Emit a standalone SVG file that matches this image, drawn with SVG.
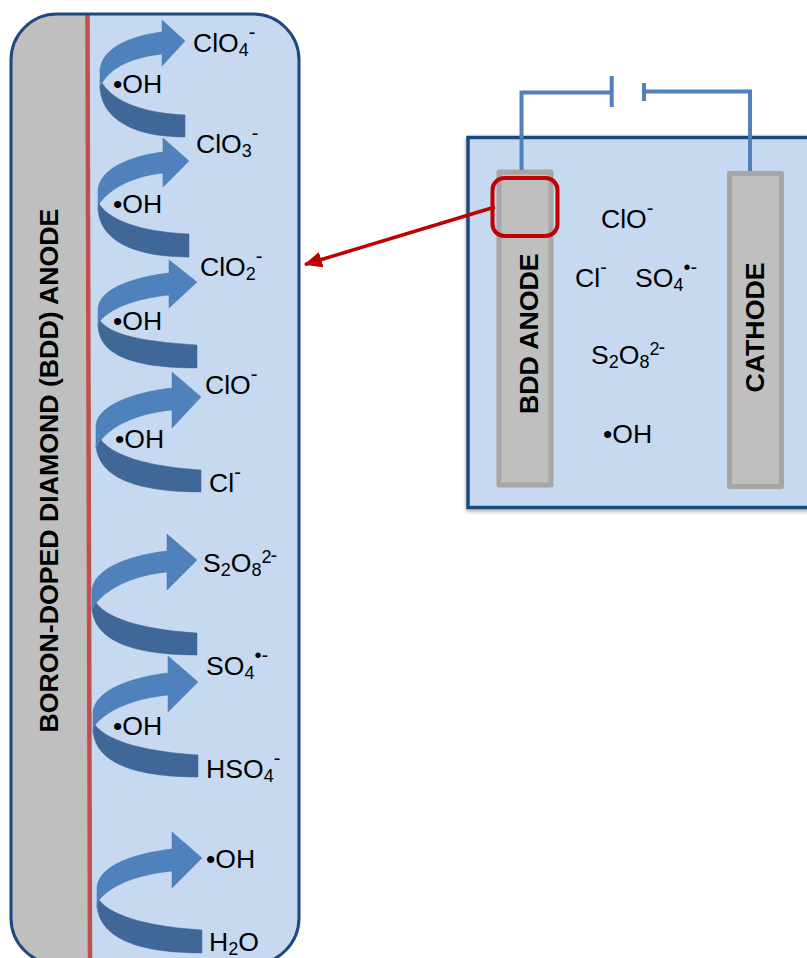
<svg xmlns="http://www.w3.org/2000/svg" width="807" height="958" viewBox="0 0 807 958">
<style>
text{font-family:"Liberation Sans",Arial,sans-serif;font-size:26.600px;fill:#000}
.b{font-weight:bold;font-size:26.700px}
.s{font-size:18px}
.u{font-size:20px}
.lt{fill:#4f81bd;stroke:#4a76ad;stroke-width:.5}
.dk{fill:#3f6797;stroke:#3f6797;stroke-width:.5}
.el{fill:#bfbfbf;stroke:#a6a6a6;stroke-width:5;stroke-linejoin:round}
.w{fill:none;stroke:#4f81bd;stroke-width:4}
</style>
<defs>
<clipPath id="pc"><rect x="11" y="14" width="288" height="950" rx="46"/></clipPath>
<filter id="sh" x="-5%" y="-5%" width="110%" height="110%"><feDropShadow dx="0" dy="2" stdDeviation="2" flood-color="#000" flood-opacity=".35"/></filter>
<marker id="ah" markerUnits="userSpaceOnUse" markerWidth="20" markerHeight="18" refX="17" refY="8" orient="auto"><path d="M0,0L18,8L0,16Z" fill="#c00000"/></marker>
</defs>
<rect width="807" height="958" fill="#fff"/>
<g id="bdd-detail-panel">
<rect x="11" y="14" width="288" height="950" rx="46" fill="#c6d9f1"/>
<path d="M0,0H87.500L90,970H0Z" fill="#bfbfbf" clip-path="url(#pc)"/>
<path d="M87.500,14L90,958" stroke="#c0504d" stroke-width="4.500" fill="none"/>
<rect x="11" y="14" width="288" height="950" rx="46" fill="none" stroke="#1f497d" stroke-width="3"/>
<text class="b" transform="translate(58,732.500) rotate(-90)">BORON-DOPED DIAMOND (BDD) ANODE</text>
</g>
<g id="cell">
<rect x="468" y="137.500" width="370" height="370" fill="#c6d9f1" stroke="#1f497d" stroke-width="3.500" filter="url(#sh)"/>
</g>
<g id="bdd-anode">
<rect x="499" y="172" width="52" height="313" class="el"/>
<text class="b" transform="translate(538,414) rotate(-90)">BDD ANODE</text>
</g>
<g id="cathode">
<rect x="729.500" y="173.500" width="52" height="313" class="el"/>
<text class="b" transform="translate(764,392.500) rotate(-90)">CATHODE</text>
</g>
<g id="connectors">
<path class="w" d="M521.500,170V92.500H611"/>
<path class="w" d="M611.700,76V107"/>
<path class="w" d="M644,83V101"/>
<path class="w" d="M644,91.500H750V171"/>
<rect x="492.500" y="178" width="65" height="58" rx="12" fill="none" stroke="#c00000" stroke-width="4"/>
<path d="M495,207L305,264.500" fill="none" stroke="#c00000" stroke-width="3.500" marker-end="url(#ah)"/>
</g>
<g id="arrow-clo3-clo4">
<path class="dk" d="M185,115C145,113 115,103 102,83L100,86C100,111 122,137 185,137Z"/>
<path class="lt" d="M162,32V20L185,41L162,66V54C135,57 112,66 102,83L100,88V70C102,48 130,36 162,32Z"/>
</g>
<g id="arrow-clo2-clo3">
<path class="dk" d="M189,234C149,232 113,224 99,204L98,207C98,232 120,257 189,257Z"/>
<path class="lt" d="M163,152V138L189,161L163,187V173C136,176 112,186 99,204L98,209V190C100,168 131,156 163,152Z"/>
</g>
<g id="arrow-clo-clo2">
<path class="dk" d="M197,345C155,342 114,338 100,321L98,324C98,349 120,368 197,368Z"/>
<path class="lt" d="M169,273V260L197,282L169,308V295C142,298 114,305 100,321L98,326V308C100,288 135,277 169,273Z"/>
</g>
<g id="arrow-cl-clo">
<path class="dk" d="M201,470C155,467 115,458 101,440L96,443C96,468 118,492 201,492Z"/>
<path class="lt" d="M172,388V372L201,397L172,428V410C142,413 115,423 101,440L96,448V425C98,405 135,392 172,388Z"/>
</g>
<g id="arrow-so4-s2o8">
<path class="dk" d="M197,633C150,630 110,621 96,603L92,606C92,631 114,655 197,655Z"/>
<path class="lt" d="M167,551V534L197,560L167,590V572C137,575 110,586 96,603L92,611V590C94,568 131,555 167,551Z"/>
</g>
<g id="arrow-hso4-so4">
<path class="dk" d="M198,755C151,752 109,743 95,725L93,728C93,753 115,777 198,777Z"/>
<path class="lt" d="M168,673V656L198,682L168,712V695C138,698 109,708 95,725L93,733V712C95,690 132,677 168,673Z"/>
</g>
<g id="arrow-h2o-oh">
<path class="dk" d="M202,930C155,927 113,918 99,900L97,903C97,928 119,953 202,953Z"/>
<path class="lt" d="M172,849V832L202,858L172,888V871C142,874 113,883 99,900L97,908V887C99,865 136,853 172,849Z"/>
</g>
<g id="labels-detail">
<text x="193" y="52">ClO<tspan class="s" dy="4">4</tspan><tspan class="u" dy="-17">-</tspan></text>
<text x="113" y="93">•OH</text>
<text x="196" y="153">ClO<tspan class="s" dy="4">3</tspan><tspan class="u" dy="-17">-</tspan></text>
<text x="113" y="213">•OH</text>
<text x="200" y="276">ClO<tspan class="s" dy="4">2</tspan><tspan class="u" dy="-17">-</tspan></text>
<text x="113" y="330">•OH</text>
<text x="205" y="394">ClO<tspan class="u" dy="-13">-</tspan></text>
<text x="115" y="448">•OH</text>
<text x="209" y="492">Cl<tspan class="u" dy="-13">-</tspan></text>
<text x="203" y="572">S<tspan class="s" dy="4">2</tspan><tspan dy="-4">O</tspan><tspan class="s" dy="4">8</tspan><tspan class="s" dy="-13">2</tspan><tspan class="u" dx="-1" dy="-1">-</tspan></text>
<text x="206" y="675">SO<tspan class="s" dy="4">4</tspan><tspan class="u" dy="-17">•-</tspan></text>
<text x="113" y="735">•OH</text>
<text x="206" y="778">HSO<tspan class="s" dy="4">4</tspan><tspan class="u" dy="-17">-</tspan></text>
<text x="206" y="868">•OH</text>
<text x="209" y="951">H<tspan class="s" dy="4">2</tspan><tspan dy="-4">O</tspan></text>
</g>
<g id="labels-cell">
<text x="601" y="228">ClO<tspan class="u" dy="-13">-</tspan></text>
<text x="575" y="287">Cl<tspan class="u" dy="-13">-</tspan></text>
<text x="635" y="287">SO<tspan class="s" dy="4">4</tspan><tspan class="u" dy="-17">•-</tspan></text>
<text x="591" y="364">S<tspan class="s" dy="4">2</tspan><tspan dy="-4">O</tspan><tspan class="s" dy="4">8</tspan><tspan class="s" dy="-13">2</tspan><tspan class="u" dx="-1" dy="-1">-</tspan></text>
<text x="603" y="443">•OH</text>
</g>
</svg>
